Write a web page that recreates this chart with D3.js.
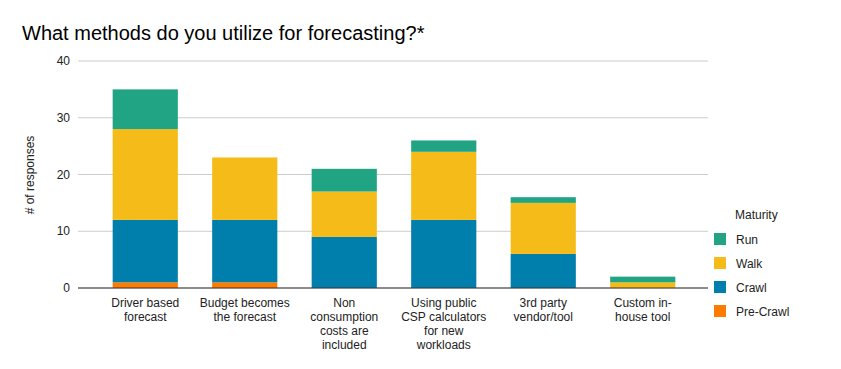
<!DOCTYPE html>
<html>
<head>
<meta charset="utf-8">
<script src="https://cdn.jsdelivr.net/npm/d3@7"></script>
<style>
  body { margin: 0; background: #fff; }
  text { font-family: Arial, "Liberation Sans", sans-serif; }
</style>
</head>
<body>
<div id="chart"></div>
<script>
// categories (label lines) and series values
let categories = [
  ['Driver based', 'forecast'],
  ['Budget becomes', 'the forecast'],
  ['Non', 'consumption', 'costs are', 'included'],
  ['Using public', 'CSP calculators', 'for new', 'workloads'],
  ['3rd party', 'vendor/tool'],
  ['Custom in-', 'house tool']
];
let preCrawl = [1, 1, 0, 0, 0, 0];
let crawl = [11, 11, 9, 12, 6, 0];
let walk = [16, 11, 8, 12, 9, 1];
let run = [7, 0, 4, 2, 1, 1];
let yTicks = [0, 10, 20, 30, 40];
let seriesNames = ['Pre-Crawl', 'Crawl', 'Walk', 'Run'];
let colors = {'Pre-Crawl': '#ff7b00', 'Crawl': '#007fad', 'Walk': '#f5bc19', 'Run': '#20a484'};

let width = 841, height = 369;
let svg = d3.select('#chart').append('svg')
    .attr('width', width)
    .attr('height', height);

// title
svg.append('text')
    .attr('x', 22)
    .attr('y', 40)
    .attr('font-size', 20)
    .attr('fill', '#000')
    .text('What methods do you utilize for forecasting?*');

let x = d3.scaleBand()
    .domain(d3.range(categories.length))
    .range([95.5, 692.5])
    .paddingInner(0.345)
    .paddingOuter(0.1725);
let y = d3.scaleLinear().domain([0, 40]).range([288, 61]);

// gridlines
svg.append('g')
  .selectAll('line')
  .data(yTicks)
  .enter().append('line')
    .attr('x1', 78).attr('x2', 708)
    .attr('y1', d => y(d)).attr('y2', d => y(d))
    .attr('stroke', '#cccccc');

// y tick labels
svg.append('g')
  .selectAll('text')
  .data(yTicks)
  .enter().append('text')
    .attr('x', 70)
    .attr('y', d => y(d) + 4)
    .attr('text-anchor', 'end')
    .attr('font-size', 12)
    .attr('fill', '#222')
    .text(d => d);

// y axis title
svg.append('text')
    .attr('transform', 'translate(34,175) rotate(-90)')
    .attr('text-anchor', 'middle')
    .attr('font-size', 12)
    .attr('fill', '#222')
    .text('# of responses');

// stack the series
let rows = categories.map(function(c, i) {
  return {'Pre-Crawl': preCrawl[i], 'Crawl': crawl[i], 'Walk': walk[i], 'Run': run[i], idx: i};
});
let stacked = d3.stack().keys(seriesNames)(rows);

svg.append('g')
  .selectAll('g')
  .data(stacked)
  .enter().append('g')
    .attr('fill', d => colors[d.key])
  .selectAll('rect')
  .data(d => d.filter(p => p[1] > p[0]))
  .enter().append('rect')
    .attr('x', d => x(d.data.idx))
    .attr('width', x.bandwidth())
    .attr('y', d => y(d[1]))
    .attr('height', d => y(d[0]) - y(d[1]));

// baseline
svg.append('line')
    .attr('x1', 78).attr('x2', 708)
    .attr('y1', y(0)).attr('y2', y(0))
    .attr('stroke', '#333')
    .attr('stroke-width', 1);

// x labels
let xl = svg.append('g')
  .selectAll('text')
  .data(categories)
  .enter().append('text')
    .attr('text-anchor', 'middle')
    .attr('font-size', 12)
    .attr('fill', '#222')
    .attr('x', (d, i) => x(i) + x.bandwidth() / 2);
xl.selectAll('tspan')
  .data(d => d)
  .enter().append('tspan')
    .attr('x', function() { return d3.select(this.parentNode).attr('x'); })
    .attr('y', (d, j) => 307 + j * 14)
    .text(d => d);

// legend
svg.append('text')
    .attr('x', 735)
    .attr('y', 219)
    .attr('font-size', 12)
    .attr('fill', '#222')
    .text('Maturity');

let legendOrder = ['Run', 'Walk', 'Crawl', 'Pre-Crawl'];
let lg = svg.append('g')
  .selectAll('g')
  .data(legendOrder)
  .enter().append('g')
    .attr('transform', (d, i) => 'translate(714,' + (233 + i * 24) + ')');
lg.append('rect')
    .attr('width', 12).attr('height', 12)
    .attr('fill', d => colors[d]);
lg.append('text')
    .attr('x', 22)
    .attr('y', 10.5)
    .attr('font-size', 12)
    .attr('fill', '#222')
    .text(d => d);
</script>
</body>
</html>
